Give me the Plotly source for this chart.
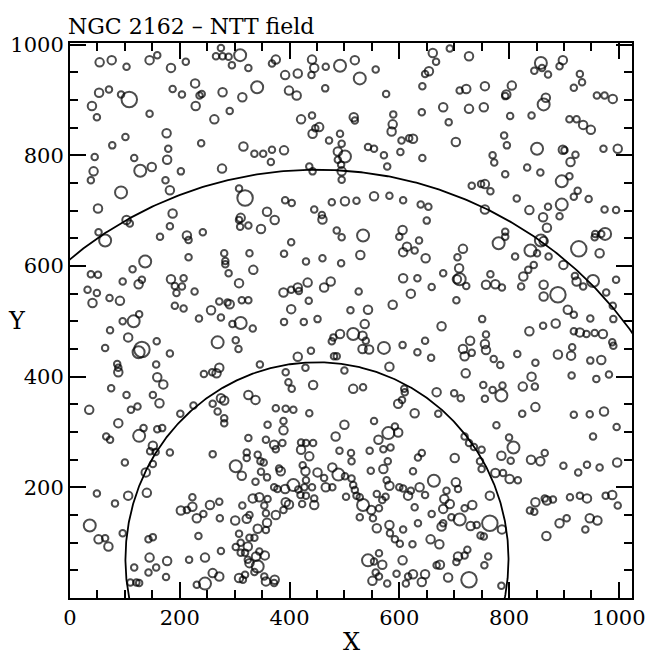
import numpy as np
import plotly.graph_objects as go

# Stars: (X, Y, magnitude class 1..4), grouped by field region
R1 = [(54,968,2),(76,972,2),(103,960,1),(145,972,2),(159,981,1),(184,958,2),(211,969,1),
      (53,913,2),(71,919,1),(40,889,2),(49,869,1),(93,910,1),(108,901,4),(145,875,1),(187,920,1),
      (204,910,1),(228,930,2),(236,908,1),(240,911,1),(229,889,2),
      (101,833,1),(77,818,1),(176,840,2),(179,812,1),(239,822,1),(45,797,1),(117,795,1),(43,771,2),
      (38,755,1),(128,772,3),(149,779,2),(177,792,2),(202,771,1),(174,755,1),(182,737,2),(93,733,3),
      (51,704,2),(187,695,2),(103,683,2),(109,677,1),(182,672,1)]
R2 = [(275,994,1),(266,979,1),(278,979,1),(289,978,1),(295,963,1),(310,981,3),(325,958,1),(368,966,1),
      (375,973,2),(392,945,2),(415,948,2),(441,973,2),(445,958,2),(440,945,1),(466,960,1),(492,962,3),
      (278,914,2),(314,905,2),(341,923,3),(399,917,2),(413,908,2),(465,921,1),(263,865,2),(291,880,1),
      (421,865,2),(441,872,1),(454,851,2),(447,849,1),(442,839,2),(472,827,1),(492,839,1),
      (316,816,2),(336,803,1),(352,803,1),(368,810,1),(390,809,2),(366,788,1),(277,776,2),(495,821,1),
      (488,807,2),(501,798,3),(488,792,1),(436,780,1),(442,771,1),(494,783,1),(495,771,2),(495,756,1),
      (308,740,1),(319,723,4),(392,719,1),(404,714,1),(477,715,1),(501,717,2),(359,698,2),(373,683,2),
      (311,687,2),(308,683,1),(445,702,1),(459,692,1),(460,684,2)]
R3 = [(519,972,2),(557,955,1),(528,939,3),(661,985,2),(667,969,1),(692,993,1),(727,979,2),(654,952,2),
      (647,947,1),(642,925,1),(576,911,1),(710,917,1),(722,920,2),(756,925,2),(680,887,2),(641,878,1),
      (727,884,2),(754,887,2),(517,869,2),(519,863,1),(589,874,1),(690,860,1),(588,856,2),(586,843,2),
      (604,827,1),(618,831,1),(625,830,2),(703,824,2),(543,815,1),(554,812,1),(572,800,1),(602,806,1),
      (578,780,1),(642,795,1),(770,800,1),(773,787,1),(732,745,1),(749,748,1),(756,748,2),(766,735,1),
      (522,718,1),(554,726,2),(582,727,1),(607,719,1),(639,711,1),(653,707,1),(650,682,1),(756,702,2)]
R4 = [(858,967,3),(860,958,1),(846,953,1),(871,946,1),(898,972,2),(892,961,1),(929,947,1),(933,932,1),
      (918,922,1),(805,926,2),(795,910,2),(793,907,1),(867,904,2),(863,892,3),(960,908,1),(974,908,1),
      (989,902,2),(802,871,1),(841,872,1),(910,865,1),(923,865,1),(935,855,2),(949,846,2),(791,836,1),
      (796,818,1),(851,812,3),(898,810,2),(901,809,1),(921,801,1),(912,788,2),(972,812,1),(998,812,2),
      (833,778,1),(857,769,1),(793,766,1),(896,753,3),(910,762,1),(925,736,1),(918,725,1),(945,721,1),
      (814,722,1),(896,711,3),(871,707,1),(837,701,2),(862,688,2),(892,690,1),(974,702,1),(995,701,1)]
R5 = [(52,661,1),(64,646,3),(164,653,1),(213,655,2),(216,647,1),(242,661,1),(137,608,3),(216,616,1),
      (114,594,1),(38,585,1),(51,584,1),(96,572,1),(125,567,2),(131,575,1),(184,576,2),(207,578,1),
      (191,564,1),(204,563,1),(194,551,1),(227,554,1),(32,557,1),(49,551,1),(41,533,2),(72,542,1),
      (91,537,2),(191,528,1),(207,523,1),(126,513,1),(96,500,1),(116,500,3),(235,505,1),(73,484,1),
      (106,471,2),(158,464,1),(131,449,4),(125,444,3),(64,452,1),(182,442,1),(86,423,1),(88,416,1),
      (88,408,2),(157,422,1),(159,399,2),(170,386,2),(75,379,1),(103,367,1),(151,367,1),(163,352,2),
      (35,340,2),(111,340,1),(123,346,1),(201,333,1),(225,348,1),(244,405,1)]
R6 = [(310,671,1),(325,673,1),(348,667,2),(486,664,1),(495,652,1),(403,643,1),(390,622,1),(327,623,1),
      (281,623,1),(283,609,1),(283,603,1),(289,587,1),(334,593,2),(308,569,2),(430,608,1),(460,614,1),
      (494,605,1),(389,552,2),(403,557,1),(415,561,2),(417,555,1),(433,570,2),(463,561,2),(475,572,2),
      (435,537,1),(272,536,1),(291,531,2),(287,534,1),(313,538,1),(325,538,1),(257,520,2),(275,507,1),
      (296,495,1),(311,497,3),(333,487,1),(403,522,2),(390,499,1),(426,499,1),(451,504,1),(511,520,1),
      (269,462,3),(302,466,1),(307,450,1),(477,464,1),(480,471,1),(492,477,2),(439,447,1),(415,436,2),
      (481,437,1),(486,437,1),(346,422,1),(393,408,1),(429,416,1),(500,411,1),(272,416,2),(267,406,2),
      (259,408,1),(398,390,1),(404,378,1),(443,385,2),(325,367,2),(338,358,2),(275,361,2),(281,357,2),
      (260,351,1),(375,343,1),(393,342,1),(407,340,1)]
R7 = [(534,655,3),(529,620,2),(606,665,2),(600,653,1),(614,635,2),(607,625,2),(636,646,1),(628,628,1),
      (648,614,2),(716,631,2),(706,616,1),(709,596,2),(710,576,3),(705,576,2),(722,564,1),(766,585,1),
      (758,566,2),(607,578,2),(633,578,1),(659,562,1),(680,587,1),(621,550,2),(526,554,1),(588,530,2),
      (543,521,2),(704,538,1),(537,495,2),(516,477,3),(533,474,2),(539,465,1),(533,450,2),(545,449,2),
      (572,452,3),(606,457,1),(647,465,1),(633,444,1),(658,434,1),(677,491,2),(751,504,1),(758,476,1),
      (729,465,2),(716,450,2),(719,437,2),(732,443,1),(756,459,2),(758,448,2),(772,432,1),(582,418,2),
      (721,406,2),(516,378,2),(534,381,1),(609,378,1),(610,372,1),(668,372,2),(700,370,1),(712,361,1),
      (753,385,1),(770,376,1),(756,360,1),(598,351,2),(605,358,1)]
R8 = [(793,662,1),(793,653,1),(781,641,3),(869,669,2),(858,646,3),(863,645,2),(839,628,3),(851,623,1),
      (811,617,1),(872,617,1),(927,631,4),(965,623,2),(957,658,1),(956,652,1),(968,658,1),(975,658,3),
      (845,602,1),(835,593,1),(826,581,2),(822,563,1),(787,561,1),(775,567,2),(899,602,2),(920,582,1),
      (923,572,2),(935,563,1),(953,573,3),(995,575,1),(863,566,2),(863,545,2),(889,548,4),(977,552,1),
      (989,528,1),(907,521,2),(918,512,1),(990,504,1),(948,505,1),(885,496,2),(862,492,1),(837,482,2),
      (918,482,1),(929,480,2),(941,477,1),(956,479,1),(971,477,2),(988,462,1),(990,456,1),(815,441,1),
      (889,440,2),(915,453,1),(913,438,2),(948,429,1),(968,430,2),(848,425,1),(784,421,1),(841,400,2),
      (914,402,1),(959,396,1),(982,404,1),(788,384,1),(786,366,3),(825,382,2),(847,382,1),(848,345,2)]
R9 = [(88,316,2),(66,292,1),(73,286,1),(126,293,3),(134,307,1),(159,305,1),(168,307,1),(151,275,2),
      (146,265,1),(156,264,1),(182,263,1),(100,245,1),(151,242,1),(138,227,2),(49,189,1),(106,185,2),
      (140,190,2),(82,171,1),(36,131,3),(52,106,2),(64,108,1),(70,93,2),(96,117,1),(143,106,1),
      (151,110,1),(202,158,2),(213,159,1),(223,165,2),(223,182,1),(231,144,2),(243,152,1),(234,112,1),
      (145,73,2),(177,67,2),(217,69,1),(246,73,2),(157,55,1),(143,46,1),(117,55,1),(175,38,1),
      (110,28,1),(121,28,1),(126,27,1),(231,24,1),(246,26,3)]
R10 = [(269,337,1),(281,325,1),(281,316,1),(436,334,1),(389,320,1),(389,303,2),(360,313,1),(325,289,1),
       (500,313,2),(484,292,2),(260,260,1),(357,286,1),(372,277,2),(375,269,1),(387,280,1),(421,281,1),
       (430,280,1),(443,280,1),(421,268,2),(436,256,2),(491,266,1),(322,263,1),(322,253,1),(342,259,1),
       (347,247,1),(353,245,1),(302,238,3),(313,221,2),(381,234,1),(384,229,2),(348,228,1),(359,218,1),
       (338,210,1),(424,240,1),(429,229,2),(451,227,2),(463,217,1),(478,236,2),(489,223,3),(501,220,1),
       (372,200,1),(378,197,1),(392,197,2),(407,204,3),(416,196,1),(427,200,1),(430,213,1),(441,200,1),
       (466,200,2),(478,200,1),(503,183,1),(345,182,2),(333,180,2),(360,179,1),(314,167,1),(354,167,1),
       (393,173,2),(399,169,2),(420,186,1),(423,170,1),(445,168,2),(430,185,1),(445,180,1),(389,159,1),
       (357,153,1),(375,150,2),(255,168,2),(272,174,1),(327,150,1),(322,143,2),(301,140,2),(273,144,1),
       (359,136,2),(342,125,2),(357,123,1),(308,116,1),(336,109,1),(327,109,1),(311,100,1),(302,92,1),
       (324,93,2),(319,82,1),(311,82,1),(345,84,1),(355,77,2),(324,69,1),(327,63,2),(339,75,2),
       (342,57,3),(275,85,1),(336,47,1),(319,42,1),(308,36,2),(315,33,1),(260,45,2),(272,39,2),
       (354,39,1),(357,30,2),(373,33,2),(372,27,1)]
R11 = [(628,334,2),(671,333,1),(554,320,1),(580,298,3),(598,299,2),(592,310,1),(562,286,2),(571,269,1),
       (584,272,1),(546,266,1),(512,262,1),(513,247,1),(641,262,1),(634,254,1),(579,247,1),(571,233,2),
       (548,230,1),(625,229,1),(701,253,2),(719,292,1),(727,280,1),(736,273,1),(750,268,1),(747,247,1),
       (750,233,1),(513,216,1),(516,204,1),(519,195,1),(522,185,1),(577,213,1),(582,203,2),
       (600,200,1),(607,198,1),(621,194,1),(616,185,2),(637,200,2),(647,186,1),(663,212,3),(703,209,2),
       (707,197,1),(686,194,1),(682,179,2),(692,170,2),(680,161,2),(719,162,1),(733,168,2),(765,185,2),
       (559,188,1),(569,177,1),(575,183,1),(528,182,1),(534,168,3),(549,159,2),(563,162,1),(528,146,1),
       (552,144,1),(628,164,1),(659,152,1),(559,126,2),(582,132,2),(583,117,1),(607,124,1),(634,135,1),
       (677,129,2),(680,135,1),(695,146,1),(710,142,3),(730,130,2),(741,132,1),(765,135,4),(748,113,1),
       (754,111,1),(592,106,1),(601,98,1),(624,97,1),(657,106,2),(673,97,2),(543,68,3),(554,66,1),
       (563,81,1),(569,60,2),(557,46,1),(551,31,2),(563,39,1),(578,26,1),(606,68,2),(595,44,1),
       (612,26,1),(616,39,1),(625,43,2),(641,29,2),(647,43,2),(668,59,1),(674,60,2),(689,37,2),
       (704,65,1),(707,75,2),(719,77,1),(724,87,1),(762,75,1),(755,59,1),(727,33,4)]
R12 = [(824,333,1),(918,331,1),(947,332,1),(973,337,2),(777,312,1),(800,290,1),(808,272,3),(786,257,2),
       (803,248,1),(865,262,1),(840,250,2),(857,247,2),(953,292,1),(996,309,1),(899,239,1),(926,227,1),
       (942,241,1),(965,236,1),(997,245,2),(775,226,2),(789,226,1),(801,215,2),(816,213,1),(848,173,2),
       (838,158,1),(846,156,1),(865,180,1),(869,176,2),(880,178,1),(911,182,1),(929,185,1),(942,180,2),
       (976,185,1),(988,186,2),(998,167,1),(905,144,1),(892,135,2),(947,144,2),(961,140,2),(939,124,1),
       (868,112,2),(787,124,2),(786,22,1)]

# Annuli around the cluster centre (X, Y) with radii in X and Y units
RING_CENTER = (450, 70)
INNER_RADII = (349, 356)
OUTER_RADII = (706, 704)

X_TICKS = [0, 200, 400, 600, 800, 1000]
Y_TICKS = [200, 400, 600, 800, 1000]

SIZE_BY_CLASS = {1: 6.5, 2: 8.5, 3: 12, 4: 15.5}

stars = R1 + R2 + R3 + R4 + R5 + R6 + R7 + R8 + R9 + R10 + R11 + R12
xs = [s[0] for s in stars]
ys = [s[1] for s in stars]
sizes = [SIZE_BY_CLASS[s[2]] for s in stars]

fig = go.Figure()
fig.add_trace(go.Scatter(
    x=xs, y=ys, mode="markers",
    marker=dict(symbol="circle-open", size=sizes, color="black", line=dict(width=2.0, color="black")),
    hoverinfo="skip", showlegend=False))

t = np.linspace(-0.5, np.pi + 0.5, 600)
for rx, ry in (INNER_RADII, OUTER_RADII):
    fig.add_trace(go.Scatter(
        x=RING_CENTER[0] + rx * np.cos(t), y=RING_CENTER[1] + ry * np.sin(t),
        mode="lines", line=dict(color="black", width=1.8), hoverinfo="skip", showlegend=False))

serif = "DejaVu Serif, serif"
axis_common = dict(
    showgrid=False, zeroline=False, showline=True, linecolor="black", linewidth=2,
    mirror="allticks", ticks="inside", ticklen=16, tickwidth=1.8, tickcolor="black",
    tickfont=dict(family=serif, size=21, color="black"), automargin=False,
)
minor_common = dict(ticks="inside", ticklen=8, tickwidth=1.6, tickcolor="black", dtick=50, tick0=0, showgrid=False)
fig.update_xaxes(range=[0, 1024], tickvals=X_TICKS, ticktext=[str(v) for v in X_TICKS],
                 minor=minor_common, **axis_common)
fig.update_yaxes(range=[0, 1003], tickvals=Y_TICKS, ticktext=[str(v) for v in Y_TICKS],
                 minor=minor_common, **axis_common)

fig.add_annotation(text="NGC 2162 – NTT field", xref="paper", yref="paper", x=0, y=1,
                   xanchor="left", yanchor="bottom", xshift=-4, yshift=2, showarrow=False,
                   font=dict(family=serif, size=22, color="black"))
fig.add_annotation(text="X", xref="paper", yref="paper", x=0.5, y=0, xanchor="center", yanchor="top",
                   yshift=-28, showarrow=False, font=dict(family=serif, size=24, color="black"))
fig.add_annotation(text="Y", xref="paper", yref="paper", x=0, y=0.5, xanchor="right", yanchor="middle",
                   xshift=-42, showarrow=False, font=dict(family=serif, size=24, color="black"))

fig.update_layout(
    width=650, height=656, autosize=False,
    margin=dict(l=70, r=18, t=43, b=58),
    paper_bgcolor="white", plot_bgcolor="white",
)

fig.write_html("out.html")
